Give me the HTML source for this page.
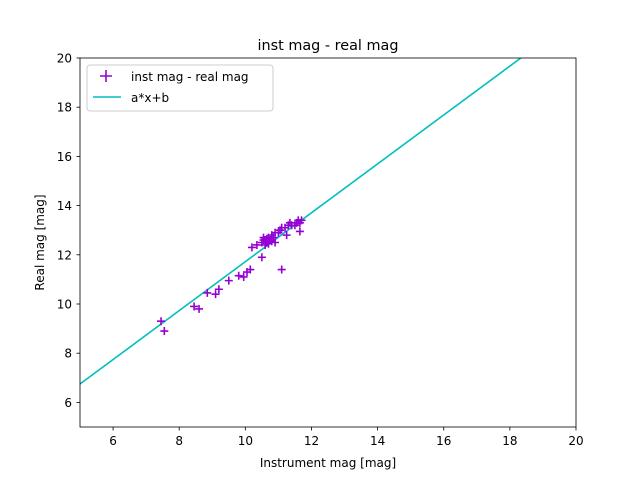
<!DOCTYPE html>
<html><head><meta charset="utf-8">
<style>
body{margin:0;background:#fff;font-family:"Liberation Sans","DejaVu Sans",sans-serif;}
svg text{font-family:"DejaVu Sans","Liberation Sans",sans-serif;}
</style></head>
<body>
<svg id="chart" width="640" height="480" xmlns="http://www.w3.org/2000/svg">
<rect width="640" height="480" fill="#fff"/>
<text x="328" y="50" font-size="14.4" text-anchor="middle">inst mag - real mag</text>
<defs><clipPath id="cp"><rect x="80" y="58" width="496" height="369"/></clipPath></defs>
<g id="plot" clip-path="url(#cp)"></g>
<rect x="80" y="58" width="496" height="369" fill="none" stroke="#000" stroke-width="0.8"/>
<g id="axes"></g>
<text x="328" y="467" font-size="12" text-anchor="middle">Instrument mag [mag]</text>
<text x="44" y="242.5" font-size="12" text-anchor="middle" transform="rotate(-90 44 242.5)">Real mag [mag]</text>
<g>
<rect x="87" y="65" width="186" height="46" rx="3" fill="#fff" fill-opacity="0.8" stroke="#ccc"/>
<path d="M100 76h12M106 70v12" stroke="#9400d3" stroke-width="1.6"/>
<text x="131" y="81" font-size="12">inst mag - real mag</text>
<path d="M93 97h28" stroke="#00bfbf" stroke-width="1.6"/>
<text x="131" y="102" font-size="12">a*x+b</text>
</g>
</svg>
<script>
const xTicks=[6,8,10,12,14,16,18,20];
const yTicks=[6,8,10,12,14,16,18,20];
const instMag=[7.45,7.55,8.45,8.6,8.85,9.1,9.2,9.5,9.8,9.95,10.05,10.15,10.2,10.35,10.5,11.1,11.65,11.65,11.25,10.9,10.5,10.55,10.6,10.65,10.7,10.75,10.8,10.85,10.9,11.0,11.05,11.1,11.2,11.3,11.35,11.4,11.5,11.55,11.6,11.7,10.6,10.7,10.8,10.55,10.65];
const realMag=[9.3,8.9,9.9,9.8,10.45,10.4,10.6,10.95,11.15,11.1,11.3,11.4,12.3,12.4,11.9,11.4,12.95,13.3,12.8,12.5,12.5,12.7,12.6,12.5,12.7,12.6,12.8,12.7,12.9,12.9,13.0,13.1,13.1,13.2,13.3,13.2,13.2,13.3,13.4,13.4,12.4,12.45,12.55,12.6,12.65];
const fitA=[0.994];
const fitB=[1.78];
const NS="http://www.w3.org/2000/svg";
const X=v=>80+(v-5)/15*496, Y=v=>427-(v-5)/15*369;
const axes=document.getElementById('axes'), plot=document.getElementById('plot');
function mk(t,a,p){const e=document.createElementNS(NS,t);for(const k in a)e.setAttribute(k,a[k]);p.appendChild(e);return e;}
xTicks.forEach(t=>{
 const l=mk('line',{x1:X(t),x2:X(t),y1:427,y2:430.5,stroke:'#000','stroke-width':0.8},axes);
 
 
 const s=mk('text',{x:X(t),y:445,'font-size':12,'text-anchor':'middle'},axes);s.textContent=t;
 
 
});
yTicks.forEach(t=>{
 const l=mk('line',{x1:76.5,x2:80,y1:Y(t),y2:Y(t),stroke:'#000','stroke-width':0.8},axes);
 
 
 const s=mk('text',{x:72,y:Y(t)+4.5,'font-size':12,'text-anchor':'end'},axes);s.textContent=t;
 
 
});
const fl=mk('line',{x1:X(5),y1:Y(fitA[0]*5+fitB[0]),x2:X(20),y2:Y(fitA[0]*20+fitB[0]),stroke:'#00bfbf','stroke-width':1.6},plot);


instMag.forEach((v,i)=>{
 const x=X(v),y=Y(realMag[i]);
 const p=mk('path',{d:`M${x-4} ${y}h8M${x} ${y-4}v8`,stroke:'#9400d3','stroke-width':1.6},plot);
 
 
});
</script>
</body></html>
